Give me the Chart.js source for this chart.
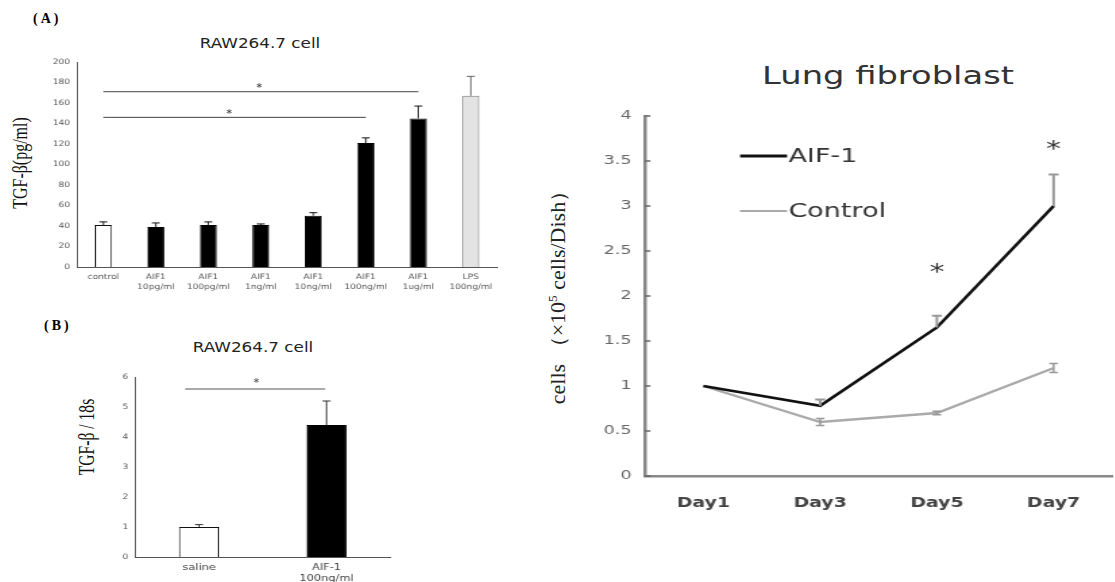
<!DOCTYPE html>
<html><head><meta charset="utf-8">
<script src="https://cdn.jsdelivr.net/npm/chart.js@4"></script>
<style>
html,body{margin:0;padding:0;background:#fff}
body{width:1115px;height:582px;overflow:hidden;position:relative;font-family:"DejaVu Sans",sans-serif}
.wrap{position:absolute;transform-origin:0 0}
.t{position:absolute;white-space:nowrap;line-height:1}
</style></head><body>

<div class="t" style="left:33px;top:11px;font:bold 14px 'Liberation Serif';letter-spacing:3px">(A)</div>
<div class="t" style="left:260px;top:43px;font:14px 'DejaVu Sans';color:#222;transform:translate(-50%,-50%) scaleX(1.2)">RAW264.7 cell</div>
<div class="t" style="left:20px;top:163px;font:20px 'Liberation Serif';color:#111;transform:translate(-50%,-50%) rotate(-90deg) scaleX(0.8)">TGF-β(pg/ml)</div>

<div class="t" style="left:44px;top:318px;font:bold 14px 'Liberation Serif';letter-spacing:3px">(B)</div>
<div class="t" style="left:253px;top:347px;font:14px 'DejaVu Sans';color:#222;transform:translate(-50%,-50%) scaleX(1.2)">RAW264.7 cell</div>
<div class="t" style="left:86px;top:437px;font:24px 'Liberation Serif';color:#111;transform:translate(-50%,-50%) rotate(-90deg) scaleX(0.65)">TGF-β / 18s</div>

<div class="t" style="left:888px;top:75px;font:25px 'DejaVu Sans';color:#333;transform:translate(-50%,-50%) scaleX(1.35)">Lung fibroblast</div>
<div class="t" style="left:558px;top:292px;font:20px 'Liberation Serif';color:#222;transform:translate(-50%,-50%) rotate(-90deg) scaleX(1.1)">cells （×10<sup style="font-size:12px">5</sup> cells/Dish）</div>

<div class="wrap" style="left:0;top:0;width:425px;height:300px;transform:scaleX(1.2)"><canvas id="cA"></canvas></div>
<div class="wrap" style="left:0;top:300px;width:341.7px;height:290px;transform:scaleX(1.2)"><canvas id="cB"></canvas></div>
<div class="wrap" style="left:530px;top:0;width:433.3px;height:582px;transform:scaleX(1.35)"><canvas id="cC"></canvas></div>

<script>
// ---- Panel A data ----
const catsA = [["control"],["AIF1","10pg/ml"],["AIF1","100pg/ml"],["AIF1","1ng/ml"],["AIF1","10ng/ml"],["AIF1","100ng/ml"],["AIF1","1ug/ml"],["LPS","100ng/ml"]];
const valsA = [41, 39, 41, 41, 50, 121, 145, 167];
const errA  = [3, 4, 3, 1, 3, 5, 12, 19];
const sigA  = [[0, 6, 171], [0, 5, 146]];
const starsA = [[2.97, 174], [2.4, 149]];
const ticksA = {min: 0, max: 200, step: 20};

// ---- Panel B data ----
const catsB = ["saline", ["AIF-1", "100ng/ml"]];
const valsB = [1.0, 4.4];
const errB  = [0.08, 0.8];
const sigB  = [[-0.11, 0.99, 5.6]];
const starsB = [[0.45, 5.8]];
const ticksB = {min: 0, max: 6, step: 1};

// ---- Panel C data ----
const days = ["Day1", "Day3", "Day5", "Day7"];
const aif  = [1.0, 0.78, 1.65, 3.0];
const ctrl = [1.0, 0.60, 0.70, 1.20];
const aifErr  = [0, 0.07, 0.13, 0.35];
const ctrlErr = [0, 0.04, 0.02, 0.05];
const starsC = [[2, 2.25], [3, 3.62]];
const ticksC = {min: 0, max: 4, step: 0.5};

const deco = {
  id: 'deco',
  afterDatasetsDraw(chart) {
    const o = chart.options.plugins.deco; if (!o) return;
    const ctx = chart.ctx, xs = chart.scales.x, ys = chart.scales.y;
    ctx.save();
    (o.err || []).forEach(s => {
      const ds = chart.data.datasets[s.ds], meta = chart.getDatasetMeta(s.ds);
      ctx.lineWidth = s.w;
      s.vals.forEach((e, i) => {
        if (!e) return;
        const v = ds.data[i], px = meta.data[i].x;
        const t = ys.getPixelForValue(v + e), b = ys.getPixelForValue(s.both ? v - e : v);
        ctx.strokeStyle = Array.isArray(s.color) ? s.color[i] : s.color;
        ctx.beginPath();
        ctx.moveTo(px, b); ctx.lineTo(px, t);
        ctx.moveTo(px - s.cap, t); ctx.lineTo(px + s.cap, t);
        if (s.both) { ctx.moveTo(px - s.cap, b); ctx.lineTo(px + s.cap, b); }
        ctx.stroke();
      });
    });
    (o.sig || []).forEach(g => {
      const x1 = xs.getPixelForValue(g[0]), x2 = xs.getPixelForValue(g[1]), y = ys.getPixelForValue(g[2]);
      ctx.strokeStyle = o.sigColor; ctx.lineWidth = 1;
      ctx.beginPath(); ctx.moveTo(x1, y); ctx.lineTo(x2, y); ctx.stroke();
    });
    ctx.fillStyle = o.starColor || '#222';
    ctx.font = o.starFont || '10px DejaVu Sans';
    ctx.textAlign = 'center'; ctx.textBaseline = 'middle';
    (o.stars || []).forEach(st => {
      ctx.fillText('*', xs.getPixelForValue(st[0]), ys.getPixelForValue(st[1]));
    });
    if (o.innerTicks) {
      ctx.strokeStyle = o.innerTicks.color; ctx.lineWidth = 1.5;
      ys.ticks.forEach(tk => {
        const y = ys.getPixelForValue(tk.value);
        ctx.beginPath(); ctx.moveTo(chart.chartArea.left, y); ctx.lineTo(chart.chartArea.left + o.innerTicks.len, y); ctx.stroke();
      });
    }
    if (o.legend) {
      ctx.textAlign = 'left'; ctx.textBaseline = 'middle';
      o.legend.forEach(l => {
        ctx.strokeStyle = l.color; ctx.lineWidth = l.w;
        ctx.beginPath(); ctx.moveTo(l.x1, l.y); ctx.lineTo(l.x2, l.y); ctx.stroke();
        ctx.fillStyle = '#333'; ctx.font = '20px DejaVu Sans';
        ctx.fillText(l.text, l.x2 + 1, l.y + 1);
      });
    }
    ctx.restore();
  }
};
Chart.register(deco);

const fillA = ['#ffffff', '#000', '#000', '#000', '#000', '#000', '#000', '#e3e3e3'];
const edgeA = ['#111', '#000', '#000', '#000', '#000', '#000', '#000', '#777'];

new Chart(document.getElementById('cA'), {
  type: 'bar',
  data: {labels: catsA, datasets: [{data: valsA, backgroundColor: fillA, borderColor: edgeA, borderWidth: 1, categoryPercentage: 1, barPercentage: 0.325}]},
  options: {
    responsive: true, maintainAspectRatio: false, animation: false,
    layout: {padding: {top: 62, right: 10.8, left: 0, bottom: 0}},
    plugins: {legend: {display: false}, tooltip: {enabled: false},
      deco: {err: [{ds: 0, vals: errA, color: ['#111','#111','#111','#111','#111','#111','#111','#666'], w: 1, cap: 3.3}],
             sig: sigA, sigColor: '#444', stars: starsA, starFont: '10px DejaVu Sans', starColor: '#222'}},
    scales: {
      x: {grid: {display: false, drawTicks: false}, border: {color: '#555'},
          ticks: {font: {size: 7.5, family: 'DejaVu Sans', lineHeight: 1.35}, color: '#555', padding: 5, maxRotation: 0, autoSkip: false},
          afterFit(s) { s.height = 33; }},
      y: {min: ticksA.min, max: ticksA.max, grid: {display: false, drawTicks: false}, border: {color: '#555'},
          ticks: {stepSize: ticksA.step, font: {size: 7.5, family: 'DejaVu Sans'}, color: '#555', padding: 6},
          afterFit(s) { s.width = 64.2; }}
    }
  }
});

new Chart(document.getElementById('cB'), {
  type: 'bar',
  data: {labels: catsB, datasets: [{data: valsB, backgroundColor: ['#fff', '#000'], borderColor: ['#111', '#000'], borderWidth: 1, categoryPercentage: 1, barPercentage: 0.315}]},
  options: {
    responsive: true, maintainAspectRatio: false, animation: false,
    layout: {padding: {top: 77, right: 17.5, left: 0, bottom: 0}},
    plugins: {legend: {display: false}, tooltip: {enabled: false},
      deco: {err: [{ds: 0, vals: errB, color: '#333', w: 1, cap: 3.3}],
             sig: sigB, sigColor: '#555', stars: starsB, starFont: '10px DejaVu Sans', starColor: '#333'}},
    scales: {
      x: {grid: {display: false, drawTicks: false}, border: {color: '#555'},
          ticks: {font: {size: 9.5, family: 'DejaVu Sans', lineHeight: 1.15}, color: '#444', padding: 5, maxRotation: 0, autoSkip: false},
          afterFit(s) { s.height = 33; }},
      y: {min: ticksB.min, max: ticksB.max, grid: {display: false, drawTicks: false}, border: {color: '#555'},
          ticks: {stepSize: ticksB.step, font: {size: 7.5, family: 'DejaVu Sans'}, color: '#555', padding: 6},
          afterFit(s) { s.width = 112.5; }}
    }
  }
});

new Chart(document.getElementById('cC'), {
  type: 'line',
  data: {labels: days, datasets: [
    {label: 'AIF-1', data: aif, borderColor: '#111', borderWidth: 2.6, pointRadius: 0, tension: 0, fill: false},
    {label: 'Control', data: ctrl, borderColor: '#aaa', borderWidth: 2.4, pointRadius: 0, tension: 0, fill: false}
  ]},
  options: {
    responsive: true, maintainAspectRatio: false, animation: false,
    layout: {padding: {top: 116, right: 2.2, left: 0, bottom: 0}},
    plugins: {legend: {display: false}, tooltip: {enabled: false},
      deco: {err: [{ds: 0, vals: aifErr, color: '#999', w: 2, cap: 3.7},
                   {ds: 1, vals: ctrlErr, color: '#999', w: 1.5, cap: 3.2, both: true}],
             stars: starsC, starFont: '22px DejaVu Sans', starColor: '#333',
             innerTicks: {color: '#666', len: 4},
             legend: [{x1: 155.6, x2: 190.4, y: 156, color: '#111', w: 3, text: 'AIF-1'},
                      {x1: 155.6, x2: 190.4, y: 211, color: '#aaa', w: 2, text: 'Control'}]}},
    scales: {
      x: {offset: true, grid: {display: false, drawTicks: false}, border: {color: '#888', width: 2.5},
          ticks: {font: {size: 14, weight: 'bold', family: 'DejaVu Sans'}, color: '#444', padding: 19, maxRotation: 0},
          afterFit(s) { s.height = 106; }},
      y: {min: ticksC.min, max: ticksC.max, grid: {display: false, drawTicks: false}, border: {color: '#888', width: 2.5},
          ticks: {stepSize: ticksC.step, font: {size: 13, family: 'DejaVu Sans'}, color: '#666', padding: 10,
                  callback: v => String(v)},
          afterFit(s) { s.width = 85.2; }}
    }
  }
});
</script>
</body></html>
